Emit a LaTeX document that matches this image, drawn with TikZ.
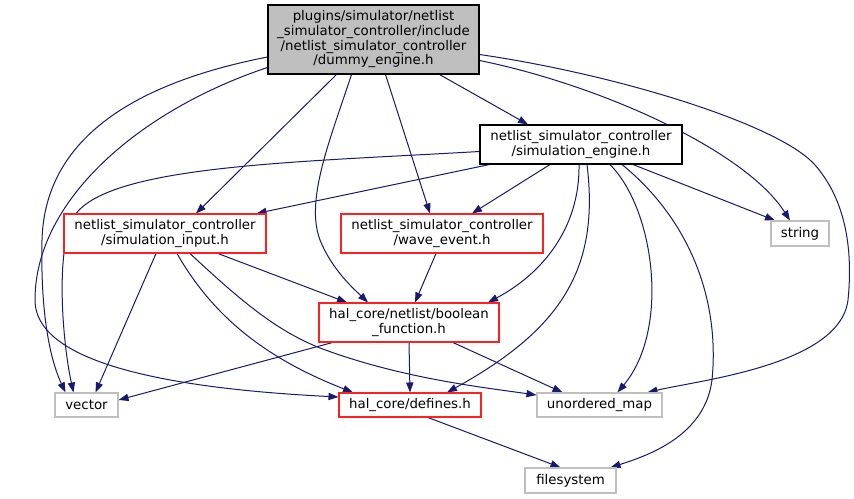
\documentclass[tikz,border=0pt]{standalone}
\usepackage{fontspec}
\setmainfont{DejaVu Sans}
\usetikzlibrary{arrows.meta,calc}
\pgfdeclarelayer{bg}
\pgfdeclarelayer{edges}
\pgfsetlayers{bg,edges,main}
\definecolor{edgeblue}{HTML}{191970}
\definecolor{boxred}{HTML}{FF2020}
\definecolor{boxgrey}{HTML}{BFBFBF}
\tikzset{
  box/.style={draw, line width=0.8pt, inner sep=0pt, align=center,
    font=\fontsize{10pt}{11pt}\selectfont},
  rootbox/.style={box, draw=black, fill=boxgrey},
  blackbox/.style={box, draw=black, fill=white},
  redbox/.style={box, draw=boxred, fill=white},
  greybox/.style={box, draw=boxgrey, fill=white},
  edge/.style={draw=edgeblue, line width=0.75pt,
    -{Triangle[length=7.5pt,width=5.4pt]}, fill=none}
}
\begin{document}
\begin{tikzpicture}[x=0.75pt,y=-0.75pt]
\begin{pgfonlayer}{bg}
\fill[white] (0,0) rectangle (854,499);
\end{pgfonlayer}
\useasboundingbox (0,0) rectangle (854,499);

\node[rootbox, minimum width=211*0.75pt, minimum height=69*0.75pt] (dummy) at (373.5,39.5)
  {plugins/simulator/netlist\\\_simulator\_controller/include\\/netlist\_simulator\_controller\\/dummy\_engine.h};
\node[blackbox, minimum width=202*0.75pt, minimum height=39*0.75pt] (eng) at (581,144.5)
  {netlist\_simulator\_controller\\/simulation\_engine.h};
\node[greybox, minimum width=58*0.75pt, minimum height=25*0.75pt] (string) at (800,233.5) {string};
\node[redbox, minimum width=202*0.75pt, minimum height=39*0.75pt] (inp) at (165,233.5)
  {netlist\_simulator\_controller\\/simulation\_input.h};
\node[redbox, minimum width=202*0.75pt, minimum height=39*0.75pt] (wave) at (442,233.5)
  {netlist\_simulator\_controller\\/wave\_event.h};
\node[redbox, minimum width=180*0.75pt, minimum height=39*0.75pt] (bool) at (409,322.5)
  {hal\_core/netlist/boolean\\\_function.h};
\node[greybox, minimum width=63*0.75pt, minimum height=24*0.75pt] (vector) at (86.5,405) {vector};
\node[redbox, minimum width=142*0.75pt, minimum height=24*0.75pt] (defines) at (410,405) {hal\_core/defines.h};
\node[greybox, minimum width=125*0.75pt, minimum height=24*0.75pt] (umap) at (599.5,405) {unordered\_map};
\node[greybox, minimum width=91*0.75pt, minimum height=25*0.75pt] (fs) at (570.5,480.5) {filesystem};

\begin{pgfonlayer}{edges}
% dummy_engine.h
\draw[edge] ($(dummy.west)+(0,17.5)$) .. controls (150,80) and (45,130) .. (42,240)
  .. controls (40,330) and (55,370) .. ($(vector.north)+(-21,0)$);
\draw[edge] ($(dummy.west)+(0,28)$) .. controls (140,110) and (35,200) .. (35,300)
  .. controls (35,370) and (200,390) .. ($(defines.west)+(0,-8)$);
\draw[edge] ($(dummy.south)+(-37,0)$) -- ($(inp.north)+(31,0)$);
\draw[edge] ($(dummy.south)+(-22,0)$) .. controls (330,140) and (305,200) .. (320,240)
  .. controls (332,270) and (355,290) .. ($(bool.north)+(-41,0)$);
\draw[edge] ($(dummy.south)+(12,0)$) -- ($(wave.north)+(-12,0)$);
\draw[edge] ($(dummy.south)+(66,0)$) -- ($(eng.north)+(-53,0)$);
\draw[edge] ($(dummy.east)+(0,21)$) .. controls (600,85) and (745,150) .. ($(string.north)+(-10,0)$);
\draw[edge] ($(dummy.east)+(0,15)$) .. controls (620,75) and (780,125) .. (815,165)
  .. controls (850,205) and (852,260) .. (848,300)
  .. controls (840,365) and (700,380) .. ($(umap.north)+(48,0)$);

% simulation_engine.h
\draw[edge] ($(eng.west)+(0,7)$) .. controls (300,162) and (110,165) .. (75,215)
  .. controls (55,245) and (62,340) .. ($(vector.north)+(-13,0)$);
\draw[edge] ($(eng.south west)+(10,0)$) -- ($(inp.north east)+(-10,0)$);
\draw[edge] ($(eng.south)+(-31,0)$) -- ($(wave.north)+(30,0)$);
\draw[edge] ($(eng.south)+(-2,0)$) .. controls (580,230) and (540,275) .. ($(bool.north)+(79,0)$);
\draw[edge] ($(eng.south)+(6,0)$) .. controls (600,270) and (560,330) .. ($(defines.north)+(37,0)$);
\draw[edge] ($(eng.south)+(29,0)$) .. controls (655,210) and (670,330) .. ($(umap.north)+(18,0)$);
\draw[edge] ($(eng.south)+(41,0)$) .. controls (690,220) and (720,300) .. (712,380)
  .. controls (705,435) and (650,455) .. ($(fs.north)+(40,0)$);
\draw[edge] ($(eng.south)+(52,0)$) -- ($(string.north)+(-25,0)$);

% simulation_input.h
\draw[edge] ($(inp.south)+(-9,0)$) -- ($(vector.north)+(9,0)$);
\draw[edge] ($(inp.south)+(12,0)$) .. controls (215,320) and (270,360) .. ($(defines.north)+(-57,0)$);
\draw[edge] ($(inp.south)+(25,0)$) .. controls (240,300) and (275,330) .. (320,348)
  .. controls (400,378) and (480,387) .. ($(umap.west)+(0,-10)$);
\draw[edge] ($(inp.south)+(53,0)$) -- ($(bool.north)+(-62,0)$);

% wave_event.h
\draw[edge] ($(wave.south)+(-6,0)$) -- ($(bool.north)+(6,0)$);

% boolean_function.h
\draw[edge] ($(bool.south west)+(14,0)$) -- ($(vector.east)+(0,-5)$);
\draw[edge] (bool.south) -- (defines.north);
\draw[edge] ($(bool.south)+(44,0)$) -- ($(umap.north)+(-37,0)$);

% defines.h
\draw[edge] ($(defines.south)+(18,0)$) -- ($(fs.north)+(-10,0)$);
\end{pgfonlayer}
\end{tikzpicture}
\end{document}
